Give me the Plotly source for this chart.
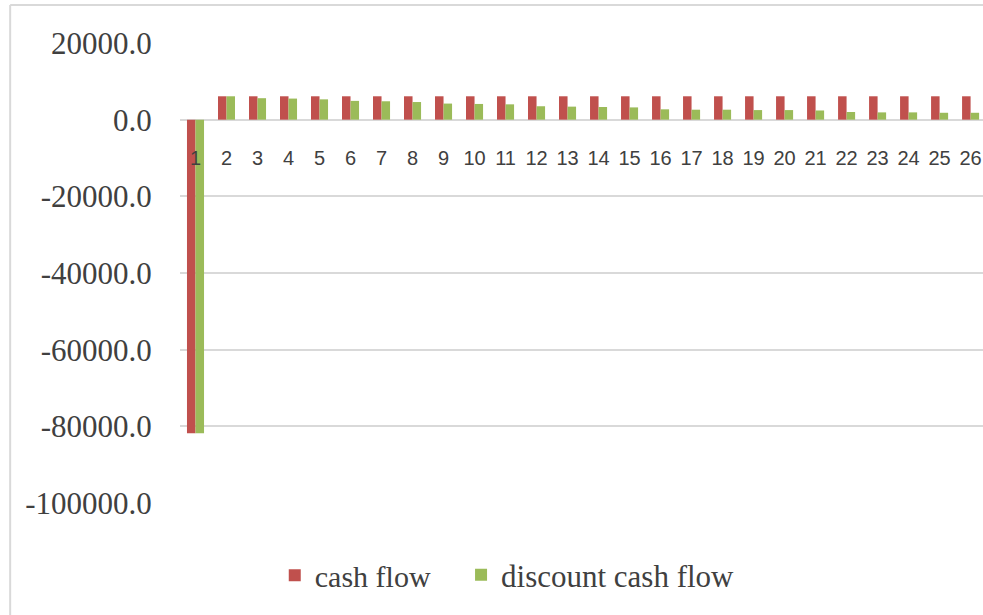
import plotly.graph_objects as go

years = [str(i) for i in range(1, 27)]
cash_flow = [-81800] + [6100] * 25
discount_cash_flow = [-81800, 6100, 5600, 5500, 5300, 4900, 4800, 4600, 4200, 4100,
                      4000, 3500, 3400, 3300, 3200, 2700, 2600, 2600, 2500, 2500,
                      2400, 2000, 1900, 1900, 1800, 1800]
y_ticks = [20000, 0, -20000, -40000, -60000, -80000, -100000]
y_tick_text = ["20000.0", "0.0", "-20000.0", "-40000.0", "-60000.0", "-80000.0", "-100000.0"]

fig = go.Figure()
fig.add_trace(go.Bar(x=years, y=cash_flow, name="cash flow", legend="legend",
                     marker=dict(color="#C0504D", line=dict(width=0))))
fig.add_trace(go.Bar(x=years, y=discount_cash_flow, name="discount cash flow", legend="legend2",
                     marker=dict(color="#9BBB59", line=dict(width=0))))

y_min, y_max = -100000, 20000
zero_pos = (0 - y_min) / (y_max - y_min)
legend_font = dict(family="Liberation Serif", size=30, color="#404040")

fig.update_layout(
    width=983, height=615,
    margin=dict(l=180, r=0, t=43, b=112),
    paper_bgcolor="white", plot_bgcolor="white",
    barmode="group", bargap=0.45, bargroupgap=0,
    showlegend=True,
    legend=dict(orientation="h", x=0.118, xanchor="left", y=-0.157, yanchor="middle",
                font=legend_font, bgcolor="rgba(0,0,0,0)"),
    legend2=dict(orientation="h", x=0.35, xanchor="left", y=-0.157, yanchor="middle",
                 font=dict(family="Liberation Serif", size=31, color="#404040"),
                 bgcolor="rgba(0,0,0,0)"),
    xaxis=dict(type="category", range=[-0.5, 25.4], anchor="free", position=zero_pos,
               showgrid=False, showline=False, zeroline=False,
               ticks="outside", ticklen=20, tickcolor="rgba(0,0,0,0)", tickangle=0,
               tickfont=dict(family="Liberation Sans Narrow, Liberation Sans", size=20, color="#404040")),
    yaxis=dict(range=[y_min, y_max], tickvals=y_ticks, ticktext=y_tick_text,
               showgrid=True, gridcolor="#d9d9d9", gridwidth=2,
               zeroline=True, zerolinecolor="#d9d9d9", zerolinewidth=2,
               showline=False, ticks="outside", ticklen=21, tickcolor="rgba(0,0,0,0)",
               tickfont=dict(family="Liberation Serif", size=31, color="#404040")),
    shapes=[
        dict(type="line", xref="paper", yref="paper", x0=-0.2115, x1=-0.2115, y0=-0.3, y1=1.0826,
             line=dict(color="#d9d9d9", width=2)),
        dict(type="line", xref="paper", yref="paper", x0=-0.2115, x1=1.01, y0=1.0826, y1=1.0826,
             line=dict(color="#d9d9d9", width=2)),
    ],
)

fig.write_html("out.html", config={"displayModeBar": False},
               post_script="document.body.style.margin='0';")
